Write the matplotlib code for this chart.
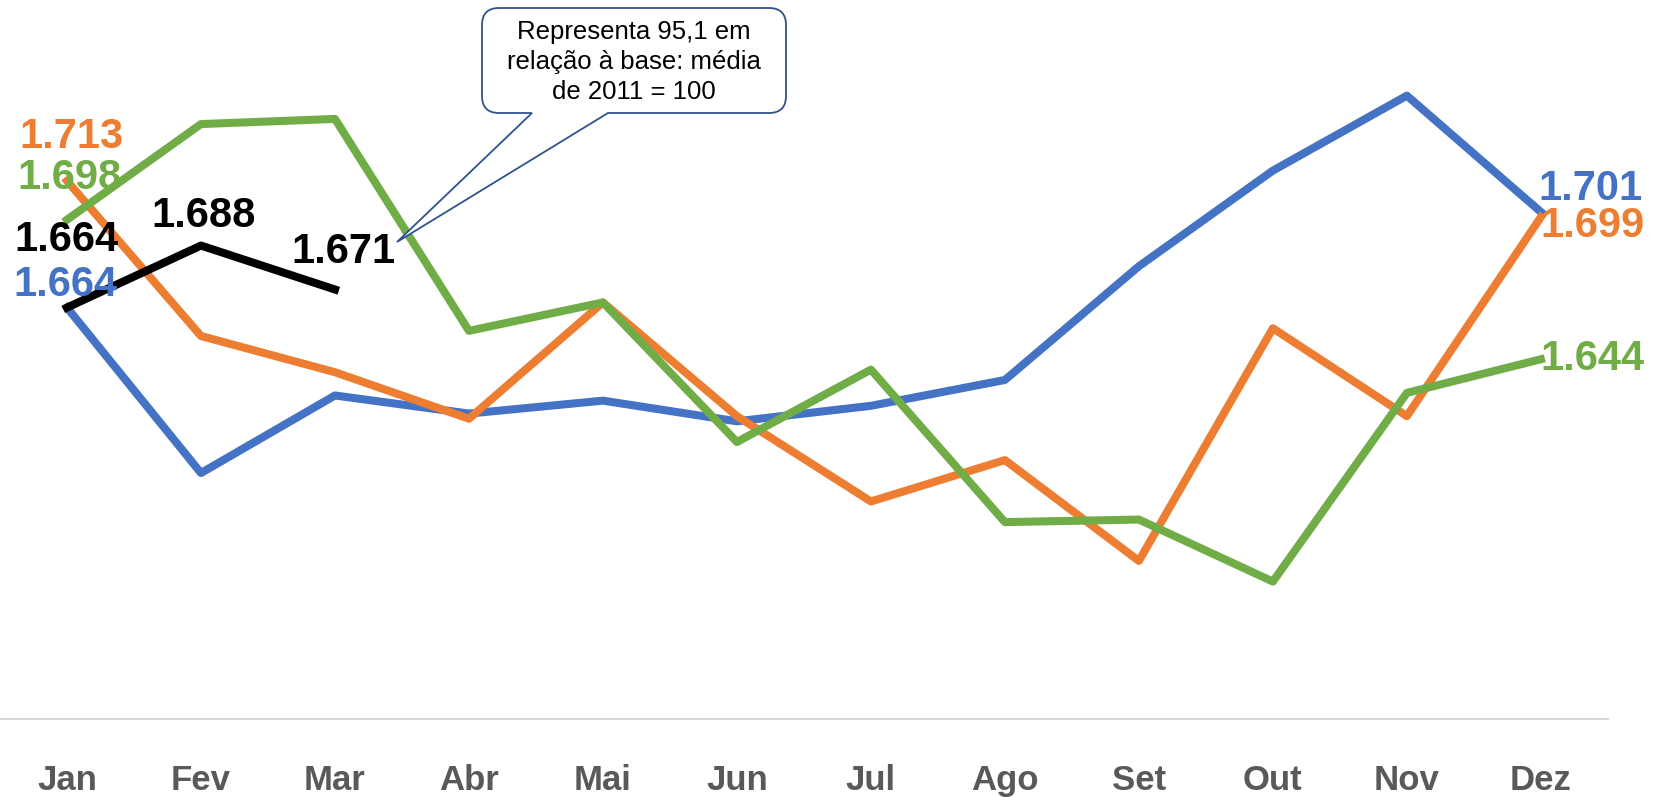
import matplotlib
matplotlib.use("Agg")
from matplotlib import pyplot as plt
from matplotlib.path import Path
from matplotlib.patches import PathPatch

meses = ["Jan", "Fev", "Mar", "Abr", "Mai", "Jun", "Jul", "Ago", "Set", "Out", "Nov", "Dez"]

# valores (so os extremos tem rotulo)
azul = [1.664, 1.600, 1.630, 1.623, 1.628, 1.620, 1.626, 1.636, 1.680, 1.717, 1.746, 1.701]
laranja = [1.713, 1.653, 1.639, 1.621, 1.666, 1.622, 1.589, 1.605, 1.566, 1.656, 1.622, 1.699]
verde = [1.698, 1.735, 1.737, 1.655, 1.666, 1.612, 1.640, 1.581, 1.582, 1.558, 1.631, 1.644]
preto = [1.664, 1.688, 1.671]

AZUL = "#4472C4"
LARANJA = "#ED7D31"
VERDE = "#70AD47"

fig = plt.figure(figsize=(16.61, 7.97), dpi=100)
ax = fig.add_axes([0.0, 0.0984, 0.968, 0.9016])

xs = list(range(len(meses)))
ax.plot(xs, azul, color=AZUL, lw=5.8)
ax.plot(xs, laranja, color=LARANJA, lw=5.8)
ax.plot(xs, verde, color=VERDE, lw=5.8)
ax.plot(xs[:len(preto)], preto, color="black", lw=5.8)

ax.set_xlim(-0.5, 11.5)
ax.set_ylim(1.505, 1.783)

for s in ["top", "left", "right"]:
    ax.spines[s].set_visible(False)
ax.spines["bottom"].set_color("#D9D9D9")
ax.spines["bottom"].set_linewidth(1.5)
ax.set_yticks([])
ax.set_xticks(xs)
ax.set_xticklabels(meses, fontsize=25, fontweight="bold", color="#595959",
                   family=["Liberation Sans", "DejaVu Sans"])
ax.tick_params(axis="x", length=0, pad=33)

fonte = dict(fontsize=30, fontweight="bold", family=["Liberation Sans", "DejaVu Sans"],
             textcoords="offset pixels", va="center")


def rotulo(valor, i, cor, dx, dy, ha="left"):
    ax.annotate(f"{valor:.3f}", xy=(i, valor), xytext=(dx, dy), color=cor, ha=ha, **fonte)


# rotulos de Jan
rotulo(laranja[0], 0, LARANJA, -48, 44)
rotulo(verde[0], 0, VERDE, -50, 42)
rotulo(preto[0], 0, "black", -53, 68)
rotulo(azul[0], 0, AZUL, -54, 23)
# serie preta
rotulo(preto[1], 1, "black", 3, 30, ha="center")
rotulo(preto[2], 2, "black", 8, 37, ha="center")
# rotulos de Dez
rotulo(azul[-1], 11, AZUL, -2, 23)
rotulo(laranja[-1], 11, LARANJA, 0, -9)
rotulo(verde[-1], 11, VERDE, 0, 0)

# balao de texto (coordenadas em pixels da figura, y para baixo)
W, H = 1661.0, 797.0
l, r, t, b, rad = 482, 786, 8, 113, 17
ponta = (397, 242)
pts = [
    ((l + rad, t), Path.MOVETO),
    ((r - rad, t), Path.LINETO),
    ((r, t), Path.CURVE3), ((r, t + rad), Path.CURVE3),
    ((r, b - rad), Path.LINETO),
    ((r, b), Path.CURVE3), ((r - rad, b), Path.CURVE3),
    ((608, b), Path.LINETO),
    (ponta, Path.LINETO),
    ((532, b), Path.LINETO),
    ((l + rad, b), Path.LINETO),
    ((l, b), Path.CURVE3), ((l, b - rad), Path.CURVE3),
    ((l, t + rad), Path.LINETO),
    ((l, t), Path.CURVE3), ((l + rad, t), Path.CURVE3),
    ((l + rad, t), Path.CLOSEPOLY),
]
verts = [(x / W, 1 - y / H) for (x, y), _ in pts]
codes = [c for _, c in pts]
fig.patches.append(PathPatch(Path(verts, codes), transform=fig.transFigure,
                             facecolor="white", edgecolor="#2F528F", lw=1.3, zorder=5))
fig.text(634 / W, 1 - 62 / H, "Representa 95,1 em\nrelação à base: média\nde 2011 = 100",
         ha="center", va="center", fontsize=18.5, linespacing=1.3, color="black",
         family=["Liberation Sans", "DejaVu Sans"], zorder=6)

fig.savefig("out.png", dpi=100, facecolor="white")
